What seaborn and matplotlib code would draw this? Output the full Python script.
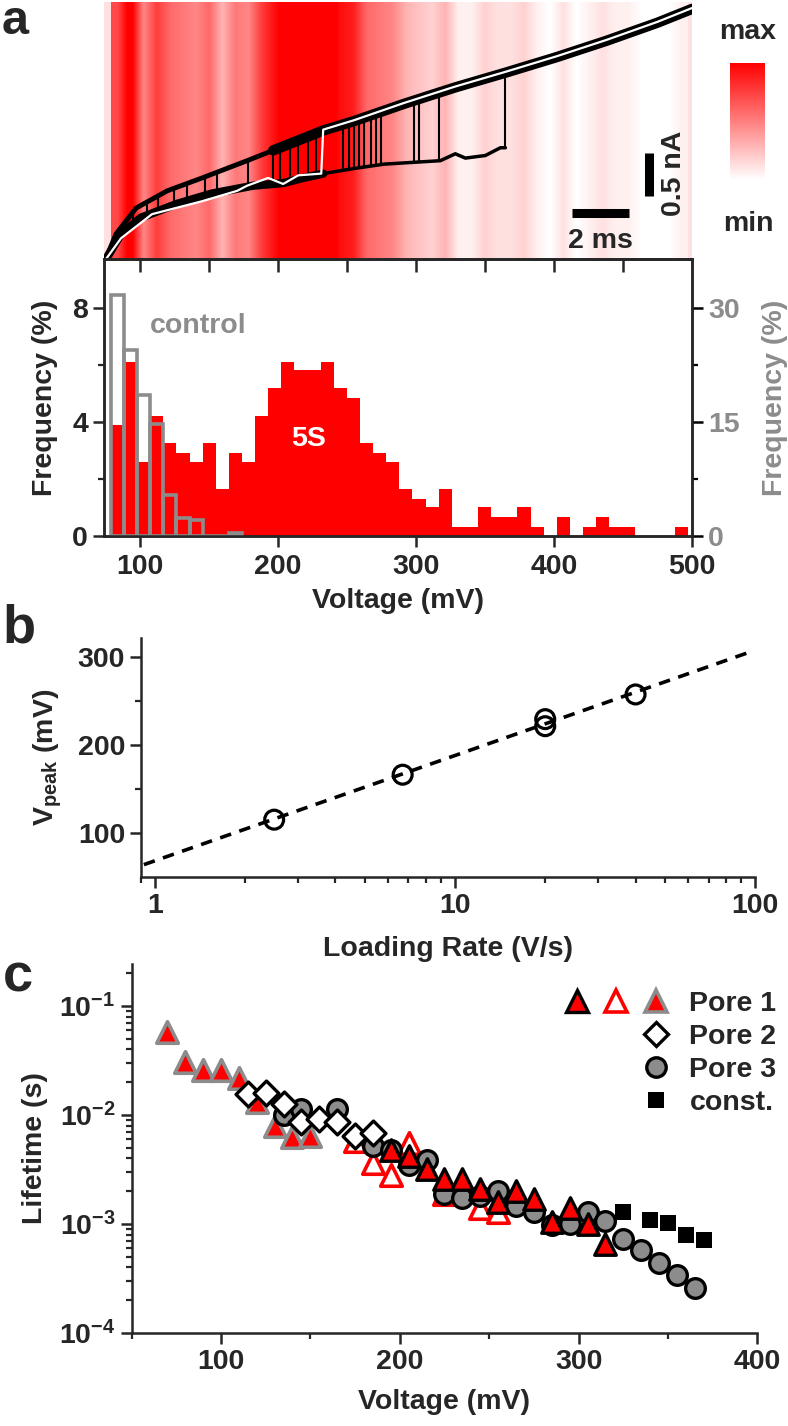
import matplotlib

matplotlib.use("Agg")

import matplotlib.pyplot as plt
import matplotlib.ticker as mticker
import numpy as np
import pandas as pd
import seaborn as sns
from matplotlib.colors import LinearSegmentedColormap
from matplotlib.legend_handler import HandlerTuple
from matplotlib.lines import Line2D


# ---- panel a: histogram of rupture voltages (bins of 9.5 mV starting at 79 mV)
BIN_START = 79.0
BIN_WIDTH = 9.5
hist_5s = [3.9, 6.1, 2.6, 4.2, 3.25, 2.9, 2.6, 3.25, 1.65, 2.9, 2.6, 4.2, 5.2, 6.1,
           5.8, 5.8, 6.1, 5.2, 4.85, 3.25, 2.9, 2.6, 1.65, 1.3, 1.0, 1.65, 0.33,
           0.33, 1.0, 0.68, 0.68, 1.0, 0.33, 0.0, 0.68, 0.0, 0.33, 0.68, 0.33,
           0.33, 0.0, 0.0, 0.0, 0.33]
hist_control = [31.7, 24.4, 18.5, 14.7, 5.4, 2.3, 2.1, 0.0, 0.0, 0.45]

# ---- panel a: current traces (x in mV along the ramp, y in nA)
open_v = [75.5, 82.7, 97.2, 119.7, 145.1, 177.7, 196.6, 232.8, 255.3, 291.5,
          328.5, 364.8, 401.8, 438.0, 475.0, 500.0]
open_i = [0.01, 0.29, 0.59, 0.79, 0.94, 1.14, 1.26, 1.49, 1.60, 1.80, 1.99,
          2.16, 2.34, 2.53, 2.74, 2.90]
blocked_v = [75.5, 86.3, 100.8, 126.9, 152.3, 182.0, 203.8, 218.3, 232.8, 255.3,
             277.0, 297.3, 317.7, 328.5, 335.8, 350.3, 361.2, 364.8]
blocked_i = [0.00, 0.29, 0.48, 0.64, 0.76, 0.85, 0.88, 0.94, 0.99, 1.05, 1.10,
             1.12, 1.14, 1.22, 1.17, 1.20, 1.29, 1.29]
white_v = [75.5, 86.3, 108.8, 145.1, 170.4, 177.7, 192.9, 203.8, 214.7, 231.4,
           232.8, 255.3, 291.5, 328.5, 364.8, 401.8, 438.0, 475.0, 500.0]
white_i = [0.00, 0.24, 0.52, 0.67, 0.79, 0.85, 0.94, 0.87, 0.97, 0.99, 1.50,
           1.61, 1.81, 2.00, 2.17, 2.35, 2.54, 2.75, 2.91]
jump_v = [95, 105, 113, 124.8, 134, 146.9, 156, 178, 196.3, 201.6, 208.9, 214.7,
          222, 227.5, 247.5, 251.3, 254.9, 258.6, 262.2, 267.6, 271.4, 275,
          298.8, 302.5, 317, 364.8]
jump_lo = [0.40, 0.51, 0.56, 0.63, 0.67, 0.72, 0.77, 0.84, 0.87, 0.88, 0.90, 0.93,
           0.95, 0.97, 1.03, 1.04, 1.05, 1.06, 1.07, 1.08, 1.09, 1.10, 1.12, 1.13,
           1.14, 1.29]
jump_hi = [0.56, 0.66, 0.73, 0.83, 0.85, 0.95, 1.00, 1.14, 1.26, 1.29, 1.34, 1.37,
           1.42, 1.46, 1.56, 1.58, 1.60, 1.62, 1.64, 1.67, 1.69, 1.71, 1.84, 1.86,
           1.93, 2.16]

# ---- panel b
loading_rate = [2.5, 6.7, 20.0, 20.0, 40.0]
v_peak = [115, 166, 221, 229, 257]
fit_rate = [0.92, 96.0]
fit_vpeak = [64, 305]

# ---- panel c
p1a_v = [195, 205, 215, 225, 235, 245, 255, 265, 275, 285, 295, 305, 315]
p1a_t = [0.0048, 0.0042, 0.0032, 0.0026, 0.0026, 0.0021, 0.0016, 0.0020, 0.0017,
         0.00105, 0.0014, 0.0010, 0.00066]
p1b_v = [175, 185, 195, 205, 225, 245, 255]
p1b_t = [0.0058, 0.0036, 0.0028, 0.0055, 0.0019, 0.0014, 0.0013]
p1c_v = [70, 80, 90, 100, 110, 120, 130, 140, 150]
p1c_t = [0.058, 0.0308, 0.0259, 0.0259, 0.0217, 0.0132, 0.0080, 0.0063, 0.0064]
p2_v = [115, 125, 135, 145, 155, 165, 175, 185]
p2_t = [0.0155, 0.0158, 0.0125, 0.0086, 0.0091, 0.0086, 0.0064, 0.0069]
p3_v = [135, 145, 165, 185, 195, 205, 215, 225, 235, 245, 255, 265, 275, 285, 295,
        305, 315, 325, 335, 345, 355, 365]
p3_t = [0.0100, 0.0113, 0.0113, 0.0052, 0.0048, 0.0035, 0.0039, 0.0019, 0.00173,
        0.0018, 0.0020, 0.00145, 0.0013, 0.00097, 0.00099, 0.00128, 0.00107,
        0.00073, 0.00058, 0.00044, 0.00034, 0.00026]
const_v = [325, 340, 350, 360, 370]
const_t = [0.0013, 0.00108, 0.00102, 0.0008, 0.00072]

RED = "#ff0000"
GRAY = "#8c8c8c"
FS = 20.5

sns.set_style("ticks")
plt.rcParams["font.family"] = ["Liberation Sans", "DejaVu Sans"]
plt.rcParams.update({
    "font.weight": "bold",
    "axes.labelweight": "bold",
    "font.size": FS,
    "axes.labelsize": FS,
    "xtick.labelsize": FS,
    "ytick.labelsize": FS,
    "axes.linewidth": 1.8,
    "xtick.major.width": 1.8,
    "ytick.major.width": 1.8,
    "xtick.minor.width": 1.6,
    "ytick.minor.width": 1.6,
    "xtick.major.size": 8,
    "ytick.major.size": 8,
    "xtick.minor.size": 4.5,
    "ytick.minor.size": 4.5,
    "xtick.direction": "out",
    "ytick.direction": "out",
    "mathtext.fontset": "custom",
    "mathtext.rm": "Liberation Sans:bold",
    "mathtext.bf": "Liberation Sans:bold",
    "mathtext.it": "Liberation Sans:bold",
    "mathtext.sf": "Liberation Sans:bold",
    "mathtext.default": "bf",
})

W, H = 788, 1426


def box(x0, y0, x1, y1):
    """Pixel box (top-left origin) to figure fraction rectangle."""
    return [x0 / W, 1 - y1 / H, (x1 - x0) / W, (y1 - y0) / H]


fig = plt.figure(figsize=(W / 100, H / 100), dpi=100)

ax_t = fig.add_axes(box(104, 2, 692, 259))
ax_h = fig.add_axes(box(104, 259, 692, 536))
ax_b = fig.add_axes(box(141, 638, 755, 877))
ax_l = fig.add_axes(box(131.5, 964, 757.5, 1333))
cax = fig.add_axes(box(730, 63, 765, 180))

edges = [BIN_START + BIN_WIDTH * k for k in range(len(hist_5s) + 1)]
hist_df = pd.DataFrame({"voltage": [e + BIN_WIDTH / 2 for e in edges[:-1]],
                        "freq": hist_5s})
ctrl_df = pd.DataFrame({"voltage": hist_df["voltage"][:len(hist_control)],
                        "freq": hist_control})

# ---------------- panel a, traces over heat stripe
cmap = LinearSegmentedColormap.from_list("wr", ["#ffffff", RED])
stripe = ax_t.imshow(np.array(hist_5s)[np.newaxis, :], cmap=cmap, vmin=0, vmax=5.5,
                     aspect="auto", interpolation="bilinear",
                     extent=[edges[0], edges[-1], 0, 2.98], zorder=0)
ax_t.set_facecolor("#ffe0e0")
ax_t.set_xlim(74, 500)
ax_t.set_ylim(0, 2.98)
ax_t.set_xticks([])
ax_t.set_yticks([])
for side in ax_t.spines.values():
    side.set_visible(False)

ov, oi = np.array(open_v), np.array(open_i)
bv, bi = np.array(blocked_v), np.array(blocked_i)
ax_t.plot(ov, oi, color="black", lw=3.5, zorder=2)
late = ov >= 190
ax_t.plot(ov[late], oi[late], color="black", lw=7.5, zorder=2)
early = bv <= 233
ax_t.plot(bv[early], bi[early], color="black", lw=6, zorder=2)
ax_t.plot(bv[bv >= 230], bi[bv >= 230], color="black", lw=2.5, zorder=2)
ax_t.vlines(jump_v, jump_lo, jump_hi, color="black", lw=1.5, zorder=2)
ax_t.plot(white_v, white_i, color="white", lw=1.6, zorder=3)

# scale bars
ax_t.plot([469, 469], [0.73, 1.23], color="black", lw=6.5, solid_capstyle="butt")
ax_t.plot([413, 454], [0.535, 0.535], color="black", lw=6.5, solid_capstyle="butt")
ax_t.text(487, 0.99, "0.5 nA", rotation=90, ha="center", va="center", fontsize=FS)
ax_t.text(433.5, 0.21, "2 ms", ha="center", va="center", fontsize=FS)

cb = fig.colorbar(stripe, cax=cax)
cb.set_ticks([])
cb.outline.set_visible(False)
fig.text(748 / W, 1 - 32 / H, "max", ha="center", va="center", fontsize=FS)
fig.text(748 / W, 1 - 224 / H, "min", ha="center", va="center", fontsize=FS)

# ---------------- panel a, histogram
sns.histplot(data=hist_df, x="voltage", weights="freq", bins=edges, color=RED,
             alpha=1, edgecolor=RED, linewidth=0, ax=ax_h)
ax_h.set_xlim(74, 500)
ax_h.set_ylim(0, 9.7)
ax_h.set_xticks([100, 200, 300, 400, 500])
ax_h.set_yticks([0, 4, 8])
ax_h.yaxis.set_minor_locator(mticker.FixedLocator([2, 6]))
ax_h.set_xlabel("Voltage (mV)", labelpad=6)
ax_h.set_ylabel("Frequency (%)", labelpad=10)
ax_h.tick_params(axis="x", pad=5)
ax_h.text(142, 7.36, "control", color=GRAY, ha="center", va="center", fontsize=FS)
ax_h.text(222, 3.4, "5S", color="white", ha="center", va="center", fontsize=FS)

top = ax_h.secondary_xaxis("top")
top.set_xticks([100, 150, 200, 250, 300, 350, 400, 450])
top.tick_params(direction="in", labeltop=False, length=9)

ax_c = ax_h.twinx()
sns.histplot(data=ctrl_df, x="voltage", weights="freq",
             bins=edges[:len(hist_control) + 1], fill=False, color=GRAY, alpha=1,
             linewidth=2.6, ax=ax_c)
ax_c.set_ylim(0, 9.7 * 3.75)
ax_c.set_yticks([0, 15, 30])
ax_c.yaxis.set_minor_locator(mticker.FixedLocator([7.5, 22.5]))
ax_c.tick_params(axis="y", which="both", labelcolor=GRAY, color="black")
ax_c.set_ylabel("Frequency (%)", color=GRAY, labelpad=16)

# ---------------- panel b
sns.lineplot(x=fit_rate, y=fit_vpeak, color="black", lw=2.6,
             linestyle=(0, (3.2, 2.4)), ax=ax_b)
sns.scatterplot(x=loading_rate, y=v_peak, marker="o", s=185, color="none",
                edgecolor="black", linewidth=2.3, ax=ax_b, zorder=3)
ax_b.set_xscale("log")
ax_b.set_xlim(0.9, 100)
ax_b.set_ylim(50, 321)
ax_b.set_xticks([1, 10, 100])
ax_b.xaxis.set_major_formatter(mticker.FuncFormatter(lambda v, p: f"{v:g}"))
ax_b.xaxis.set_minor_locator(mticker.LogLocator(base=10, subs=np.arange(2, 10) / 1.0))
ax_b.xaxis.set_minor_formatter(mticker.NullFormatter())
ax_b.set_yticks([100, 200, 300])
ax_b.yaxis.set_minor_locator(mticker.FixedLocator([150, 250]))
ax_b.spines[["top", "right"]].set_visible(False)
ax_b.set_xlabel("Loading Rate (V/s)", labelpad=12)
ax_b.set_ylabel(r"$\mathbf{V_{peak}}$ (mV)", labelpad=10)

# ---------------- panel c
sns.scatterplot(x=p1c_v, y=p1c_t, marker="^", s=240, color=RED, edgecolor=GRAY,
                linewidth=2.6, ax=ax_l, zorder=3)
sns.scatterplot(x=p1b_v, y=p1b_t, marker="^", s=240, color="white", edgecolor=RED,
                linewidth=2.6, ax=ax_l, zorder=4)
sns.scatterplot(x=p3_v, y=p3_t, marker="o", s=200, color=GRAY, edgecolor="black",
                linewidth=2.4, ax=ax_l, zorder=5)
sns.scatterplot(x=p2_v, y=p2_t, marker="D", s=160, color="white", edgecolor="black",
                linewidth=2.4, ax=ax_l, zorder=6)
sns.scatterplot(x=p1a_v, y=p1a_t, marker="^", s=240, color=RED, edgecolor="black",
                linewidth=2.4, ax=ax_l, zorder=7)
sns.scatterplot(x=const_v, y=const_t, marker="s", s=125, color="black",
                edgecolor="black", linewidth=0, ax=ax_l, zorder=8)
ax_l.set_yscale("log")
ax_l.set_xlim(50, 400)
ax_l.set_ylim(1e-4, 0.243)
ax_l.set_xticks([100, 200, 300, 400])
ax_l.xaxis.set_minor_locator(mticker.MultipleLocator(50))
ax_l.set_yticks([1e-4, 1e-3, 1e-2, 1e-1])
ax_l.yaxis.set_major_formatter(
    mticker.FuncFormatter(lambda v, p: r"$\mathbf{10^{%d}}$" % round(np.log10(v))))
ax_l.yaxis.set_minor_locator(mticker.LogLocator(base=10, subs=np.arange(2, 10) / 1.0))
ax_l.yaxis.set_minor_formatter(mticker.NullFormatter())
ax_l.spines[["top", "right"]].set_visible(False)
ax_l.set_xlabel("Voltage (mV)", labelpad=10)
ax_l.set_ylabel("Lifetime (s)", labelpad=8)


def key(marker, ms, fc, ec, mew):
    return Line2D([], [], linestyle="none", marker=marker, markersize=ms,
                  markerfacecolor=fc, markeredgecolor=ec, markeredgewidth=mew)


blank = Line2D([], [], linestyle="none")
handles = [
    (key("^", 15.5, RED, "black", 2.4), key("^", 15.5, "white", RED, 2.6),
     key("^", 15.5, RED, GRAY, 2.6)),
    (blank, blank, key("D", 12.5, "white", "black", 2.4)),
    (blank, blank, key("o", 14, GRAY, "black", 2.4)),
    (blank, blank, key("s", 11, "black", "black", 0)),
]
ax_l.legend(handles, ["Pore 1", "Pore 2", "Pore 3", "const."],
            handler_map={tuple: HandlerTuple(ndivide=None, pad=0)},
            handlelength=4.2, handletextpad=0.46, labelspacing=0.25,
            frameon=False, loc="upper left", borderpad=0, borderaxespad=0,
            bbox_to_anchor=(556.7 / W, 1 - 991 / H), bbox_transform=fig.transFigure,
            fontsize=FS)

# panel letters
fig.text(2 / W, 1 - 34 / H, "a", fontsize=35, fontweight="bold", va="baseline")
fig.text(2 / W, 1 - 643 / H, "b", fontsize=39, fontweight="bold", va="baseline")
fig.text(3 / W, 1 - 992 / H, "c", fontsize=39, fontweight="bold", va="baseline")

fig.savefig("out.png", dpi=100)
plt.close(fig)
